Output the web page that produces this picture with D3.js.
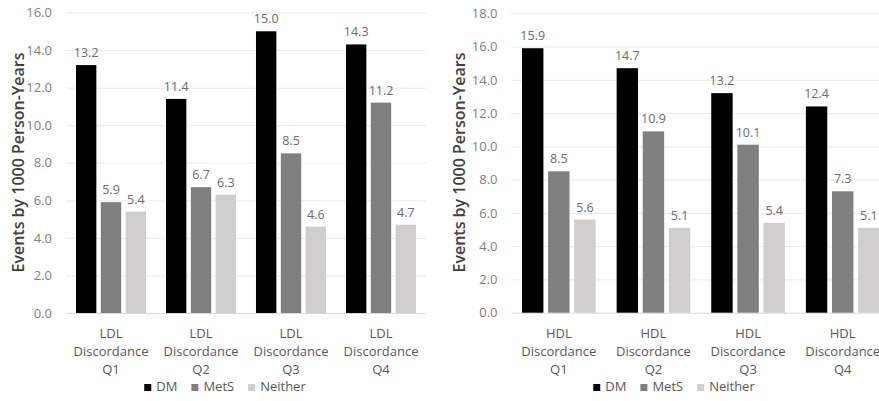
<!DOCTYPE html>
<html>
<head>
<meta charset="utf-8">
<script src="https://cdn.jsdelivr.net/npm/d3@7"></script>
<style>
  html, body { margin: 0; padding: 0; background: #fff; }
  svg { display: block; font-family: "Open Sans", sans-serif; }
</style>
</head>
<body>
<svg id="chart" width="879" height="401"></svg>
<script>
// ---- data ----
const seriesNames = ["DM", "MetS", "Neither"];
const seriesColors = ["#000000", "#7f7f7f", "#d0cece"];

const categoriesLDL = ["LDL Discordance Q1", "LDL Discordance Q2", "LDL Discordance Q3", "LDL Discordance Q4"];
const dmLDL = [13.2, 11.4, 15.0, 14.3];
const metsLDL = [5.9, 6.7, 8.5, 11.2];
const neitherLDL = [5.4, 6.3, 4.6, 4.7];
const ticksLDL = [0, 2, 4, 6, 8, 10, 12, 14, 16];

const categoriesHDL = ["HDL Discordance Q1", "HDL Discordance Q2", "HDL Discordance Q3", "HDL Discordance Q4"];
const dmHDL = [15.9, 14.7, 13.2, 12.4];
const metsHDL = [8.5, 10.9, 10.1, 7.3];
const neitherHDL = [5.6, 5.1, 5.4, 5.1];
const ticksHDL = [0, 2, 4, 6, 8, 10, 12, 14, 16, 18];

const yTitle = "Events by 1000 Person-Years";

const svg = d3.select("#chart");

function drawPanel(cfg) {
  const g = svg.append("g");
  const x0 = d3.scaleBand().domain(cfg.categories).range([cfg.left, cfg.right])
    .paddingInner(0.222).paddingOuter(0.111);
  const x1 = d3.scaleBand().domain(seriesNames).range([0, x0.bandwidth()])
    .paddingInner(0.18).paddingOuter(0);
  const y = d3.scaleLinear().domain([0, d3.max(cfg.ticks)]).range([cfg.bottom, cfg.top]);

  // gridlines
  const grid = g.append("g").attr("transform", `translate(${cfg.left},0)`)
    .call(d3.axisLeft(y).tickValues(cfg.ticks).tickSize(-(cfg.right - cfg.left)).tickFormat(""));
  grid.select(".domain").remove();
  grid.selectAll(".tick line").attr("stroke", d => d === 0 ? "#d9d9d9" : "#e9e9e9").attr("stroke-width", 1);

  // tick labels
  const ax = g.append("g").attr("transform", `translate(${cfg.tickX},0)`)
    .call(d3.axisLeft(y).tickValues(cfg.ticks).tickSize(0).tickPadding(0).tickFormat(d3.format(".1f")));
  ax.select(".domain").remove();
  ax.selectAll("text").attr("fill", "#7f7f7f").style("font-size", "13px")
    .style("font-family", "'Open Sans', sans-serif");

  // bars
  const rows = cfg.categories.map((c, i) => ({
    cat: c,
    vals: [cfg.dm[i], cfg.mets[i], cfg.neither[i]]
  }));
  const grp = g.selectAll(".grp").data(rows).enter().append("g")
    .attr("transform", d => `translate(${x0(d.cat)},0)`);
  grp.selectAll("rect").data(d => d.vals.map((v, j) => ({ s: seriesNames[j], v, j })))
    .enter().append("rect")
    .attr("x", d => x1(d.s))
    .attr("width", x1.bandwidth())
    .attr("y", d => y(d.v))
    .attr("height", d => y(0) - y(d.v))
    .attr("fill", d => seriesColors[d.j]);
  grp.selectAll("text.val").data(d => d.vals.map((v, j) => ({ s: seriesNames[j], v, j })))
    .enter().append("text").attr("class", "val")
    .attr("x", d => x1(d.s) + x1.bandwidth() / 2)
    .attr("y", d => y(d.v) - 8)
    .attr("text-anchor", "middle")
    .attr("fill", "#6b6b6b")
    .style("font-size", "12.5px")
    .text(d => d3.format(".1f")(d.v));

  // category labels
  const cl = g.selectAll(".cl").data(cfg.categories).enter().append("text")
    .attr("text-anchor", "middle")
    .attr("fill", "#595959")
    .style("font-size", "13px");
  const lineY = [337.5, 356, 374];
  cl.each(function (d) {
    const parts = d.split(" ");
    const t = d3.select(this);
    parts.forEach((p, k) => {
      t.append("tspan").attr("x", x0(d) + x0.bandwidth() / 2).attr("y", lineY[k]).text(p);
    });
  });

  // y title
  g.append("text")
    .attr("transform", `translate(${cfg.titleX},${(53 + 272) / 2}) rotate(-90)`)
    .attr("text-anchor", "middle")
    .attr("dy", "0.35em")
    .attr("fill", "#404040")
    .style("font-size", "16px")
    .style("font-weight", 600)
    .text(yTitle);

  // legend
  const lg = g.append("g");
  let cx = 0;
  seriesNames.forEach((s, j) => {
    lg.append("rect").attr("x", cx).attr("y", 384).attr("width", 7).attr("height", 7)
      .attr("fill", seriesColors[j]);
    const t = lg.append("text").attr("x", cx + 12).attr("y", 391)
      .attr("fill", "#595959").style("font-size", "13px").text(s);
    cx += 12 + t.node().getComputedTextLength() + 14;
  });
  const lw = cx - 14;
  lg.attr("transform", `translate(${cfg.legendCenter - lw / 2},0)`);
}

drawPanel({
  categories: categoriesLDL, dm: dmLDL, mets: metsLDL, neither: neitherLDL, ticks: ticksLDL,
  left: 66, right: 426, top: 12.5, bottom: 313, tickX: 52, titleX: 18, legendCenter: 225
});
drawPanel({
  categories: categoriesHDL, dm: dmHDL, mets: metsHDL, neither: neitherHDL, ticks: ticksHDL,
  left: 511.5, right: 890, top: 13.3, bottom: 312.7, tickX: 497.5, titleX: 459, legendCenter: 674
});
</script>
</body>
</html>
